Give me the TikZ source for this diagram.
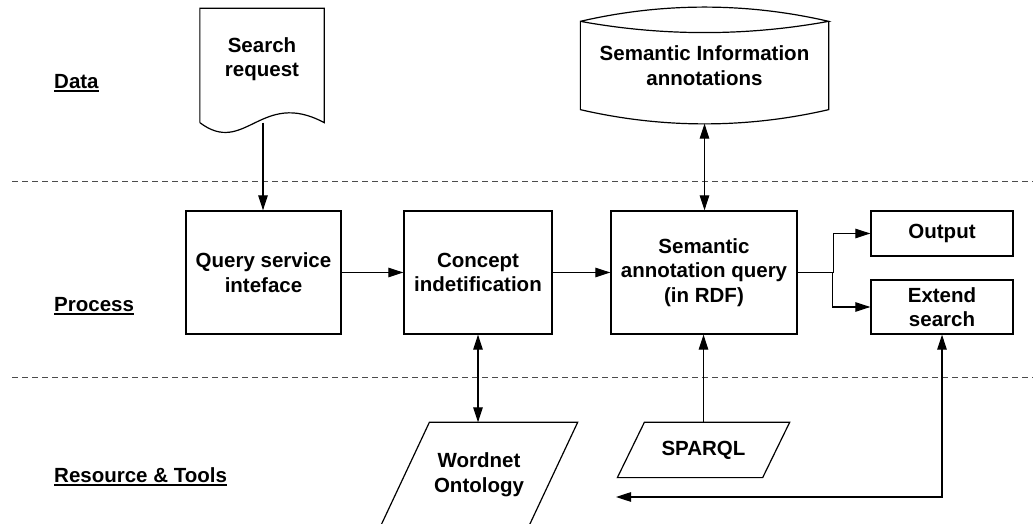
\documentclass[tikz,border=0pt]{standalone}
\usepackage{fontspec}
\setmainfont{Liberation Sans}
\usepackage{tikz}
\usetikzlibrary{calc}
\usetikzlibrary{arrows.meta}
\newcommand{\lanename}[1]{\setbox0=\hbox{#1}\rlap{\rule[-3pt]{\wd0}{2pt}}\box0}
\newcommand{\slantbox}[2]{\draw[shapeline] ($(#1.north west)+(#2,0)$) -- (#1.north east) -- ($(#1.south east)+(-#2,0)$) -- (#1.south west) -- cycle;}
\tikzset{
    common/.style={draw, line width=1.3pt, inner sep=0pt, align=center, font=\bfseries\fontsize{20.5}{24.5}\selectfont},
    block/.style={common, rectangle, minimum height=123pt},
    smallblock/.style={common, rectangle, minimum width=142pt},
    outline/.style={common, draw=none},
    lane/.style={anchor=base west, inner sep=0pt, font=\bfseries\fontsize{20.5}{24.5}\selectfont},
    divider/.style={dash pattern=on 6pt off 4pt, line width=1pt, black!70},
    shapeline/.style={line width=1.2pt},
    flow/.style={-{Triangle[length=15pt, width=9.5pt]}, line width=1.1pt},
    biflow/.style={{Triangle[length=15pt, width=9.5pt]}-{Triangle[length=15pt, width=9.5pt]}, line width=1.1pt}
}

\begin{document}
\begin{tikzpicture}[x=1pt, y=1pt]
              \useasboundingbox (0,0) rectangle (1033,524);

              \path
                (54,435) node[lane] (data-lane) {\lanename{Data}}
                ++(0,-223) node[lane] (process-lane) {\lanename{Process}}
                ++(0,-171) node[lane] (resource-lane) {\lanename{Resource \& Tools}};

              \draw[divider] (12,342) -- (1033,342);
              \draw[divider] (12,146) -- (1033,146);

              % process row
              \path
                (263.5,251.5) node[block, minimum width=155pt] (query-service) {Query service\\inteface}
                ++(214.5,0) node[block, minimum width=148pt] (concept) {Concept\\indetification}
                ++(226,0) node[block, minimum width=186pt] (sem-query) {Semantic\\annotation query\\(in RDF)}
                ++(238,39) node[smallblock, minimum height=45pt] (output) {Output}
                ++(0,-73.5) node[smallblock, minimum height=54pt] (extend-search) {Extend\\search};

              % data row
              \node[outline, minimum width=123pt, minimum height=100pt] (search-request) at (262,465) {Search\\request};
              \draw[shapeline] ($(search-request.south west)+(0,-13)$) -- (search-request.north west) -- (search-request.north east) -- ($(search-request.south east)+(0,-13)$)
                .. controls +(-63,34) and +(45,-34) .. ($(search-request.south west)+(0,-13)$);
              \coordinate (search-request-tail) at ($(search-request.south)+(1,-13)$);

              \node[outline, minimum width=247pt, minimum height=87pt] (sem-info) at (704.5,458.5) {Semantic Information\\annotations};
              \draw[shapeline] (sem-info.north west) .. controls +(82,19) and +(-82,19) .. (sem-info.north east)
                .. controls +(-82,-15) and +(82,-15) .. (sem-info.north west) -- (sem-info.south west)
                .. controls +(82,-19) and +(-82,-19) .. (sem-info.south east) -- (sem-info.north east);
              \coordinate (sem-info-tail) at ($(sem-info.south)+(0,-14)$);

              % resource row
              \node[outline, minimum width=196pt, minimum height=103pt] (wordnet) at (479,49.5) {Wordnet\\Ontology};
              \slantbox{wordnet}{49}
              \node[outline, minimum width=171pt, minimum height=54pt] (sparql) at (703.5,74) {SPARQL};
              \slantbox{sparql}{27}
              \coordinate (feedback-end) at (616,27);

              \draw[flow] (search-request-tail) -- (search-request-tail |- query-service.north);
              \draw[flow] (query-service) -- (concept);
              \draw[flow] (concept) -- (sem-query);
              \draw[biflow] (sem-info-tail) -- (sem-info-tail |- sem-query.north);
              \draw[biflow] (concept) -- (concept |- wordnet.north);
              \draw[flow] (sparql) -- (sparql |- sem-query.south);
              \draw[flow] (sem-query.east) -- ++(36,0) |- (output.west);
              \draw[flow] (sem-query.east) -- ++(35,0) |- (extend-search.west);
              \draw[biflow] (feedback-end) -| (extend-search.south);
            \end{tikzpicture}
\end{document}
